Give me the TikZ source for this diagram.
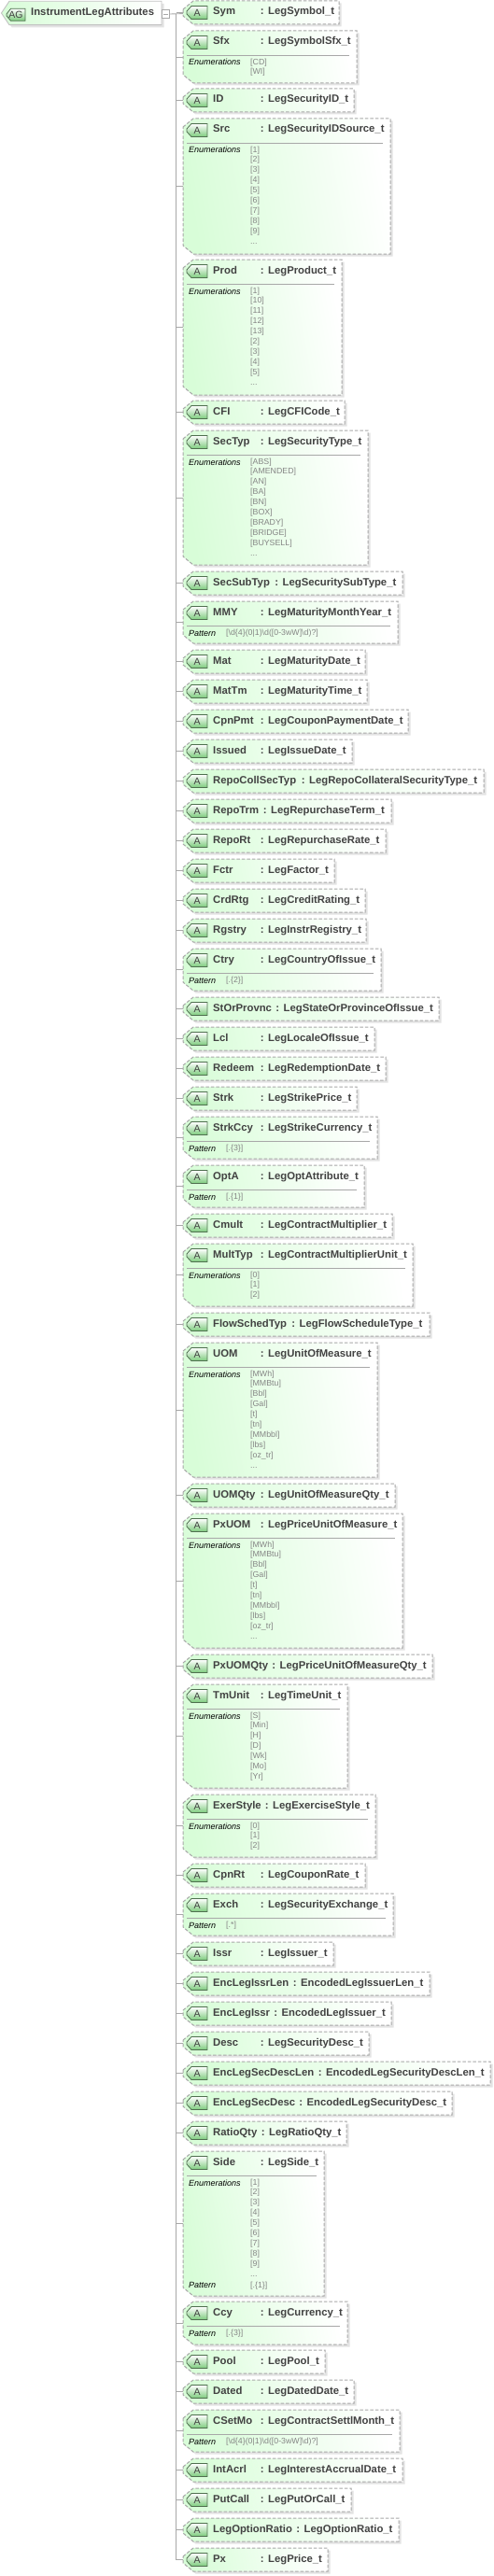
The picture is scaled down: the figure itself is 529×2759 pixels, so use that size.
\documentclass[tikz,border=0pt]{standalone}
\usepackage{fontspec}
\setmainfont{Liberation Sans}
\definecolor{attrgreen}{HTML}{D8FDD8}
\definecolor{framegray}{HTML}{A8A8A8}
\definecolor{shadowgray}{HTML}{E3E3E3}
\definecolor{namegray}{HTML}{424242}
\definecolor{valgray}{HTML}{858585}
\definecolor{badgeedge}{HTML}{4F6F4F}
\definecolor{badgegreen}{HTML}{7CCB7C}
\newcommand\nmfont{\fontsize{11.3}{13}\bfseries\selectfont}
\newcommand\lbfont{\fontsize{9}{11}\itshape\selectfont}
\newcommand\vlfont{\fontsize{8.8}{11}\selectfont}
\newcommand\rxval{[\textbackslash d\{4\}(0|1)\textbackslash d([0-3wW]\textbackslash d)?]}
\newcommand\mydots{...}
\tikzset{
  boxanchor/.style={inner sep=0pt,outer sep=0pt,anchor=north west,draw=none},
  conn/.style={draw=framegray,line width=.9pt},
  boxshadow/.style={fill=shadowgray,draw=none},
  boxfill/.style={draw=none,left color=attrgreen,right color=white,shading angle=100},
  boxline/.style={draw=framegray,line width=1pt,dash pattern=on 3.5pt off 2pt},
  badge/.style={draw=badgeedge,line width=.8pt,top color=white,bottom color=badgegreen},
  badgetext/.style={inner sep=0pt,text=namegray,font=\fontsize{10.5}{12}\selectfont},
  nametext/.style={inner sep=0pt,anchor=base west,text=namegray,font=\nmfont},
  labeltext/.style={inner sep=0pt,anchor=base west,text=black,font=\lbfont},
  valtext/.style={inner sep=0pt,anchor=base west,text=valgray,font=\vlfont},
  divider/.style={draw=framegray,line width=.8pt},
}
\newcommand\attr[7]{%
  \coordinate (tr-#1) at (188.7,{(#2+#3)/2});
  \node[boxanchor,minimum width={(#4-196)*1pt},minimum height={(#3-#2)*1pt}] (#1) at (196,#2) {};
  \draw[conn] (tr-#1) -- (#1.west);
  \path[boxshadow,xshift=2.5pt,yshift=-2.5pt] (196,#2+9) -- (207,#2) -- (#4,#2) -- (#4,#3) -- (207,#3) -- (196,#3-9) -- cycle;
  \path[boxfill] (196,#2+9) -- (207,#2) -- (#4,#2) -- (#4,#3) -- (207,#3) -- (196,#3-9) -- cycle;
  \path[boxline] (196,#2+9) -- (207,#2) -- (#4,#2) -- (#4,#3) -- (207,#3) -- (196,#3-9) -- cycle;
  \path[badge] (200,#2+11) -- (205,#2+5.5) -- (222,#2+5.5) -- (222,#2+19.5) -- (205,#2+19.5) -- (200,#2+14) -- cycle;
  \node[badgetext] (#1-badge) at (211,#2+12.8) {A};
  \node[nametext] (#1-name) at (228,#2+15) {#5};
  \node[nametext] (#1-colon) at (#6-8.4,#2+15) {:};
  \node[nametext] (#1-type) at (#6,#2+15) {#7};
}
\newcommand\facet[6]{%
  \draw[divider] (200,#2+26.3) -- (#3-8,#2+26.3);
  \node[labeltext] (#1-label) at (202,#2+37) {#4};
  \foreach \v [count=\i] in {#6} {
    \node[valtext] (#1-val\i) at (#5,{#2+36.6+11*(\i-1)-(\i>1)}) {\v};
  }
}
\newcommand\extra[5]{%
  \node[labeltext] (#1-xlabel) at (202,#2+146) {#3};
  \node[valtext] (#1-xval) at (#4,#2+146) {#5};
}
\begin{document}
\begin{tikzpicture}[x=1pt,y=-1pt]
\useasboundingbox (0,0) rectangle (529,2759);
\fill[white] (0,0) rectangle (529,2759);
% root
\coordinate (trunktop) at (188.7,14.6);
\coordinate (trunkbot) at (188.7,2741.5);
\node[boxanchor,minimum width=171pt,minimum height=25.5pt] (root) at (2,1.3) {};
\path[fill=shadowgray,xshift=2.7pt,yshift=-2.7pt] (1.5,14) -- (10,1.3) -- (173,1.3) -- (173,26.7) -- (10,26.7) -- cycle;
\path[draw=framegray!70,line width=.9pt,left color=attrgreen,right color=white,shading angle=90] (1.5,14) -- (10,1.3) -- (173,1.3) -- (173,26.7) -- (10,26.7) -- cycle;
\path[badge] (7,15) -- (11.5,9.3) -- (27,9.3) -- (27,22.2) -- (11.5,22.2) -- (7,17) -- cycle;
\node[badgetext] (root-badge) at (17,16) {AG};
\node[nametext] (root-name) at (33,16.7) {InstrumentLegAttributes};
\node[rectangle,draw=framegray,line width=.9pt,fill=white,minimum width=8.6pt,minimum height=8.6pt,inner sep=0pt] (collapse) at (177.4,15) {};
\draw[conn,draw=framegray] (175,15) -- (180,15);
\draw[conn] (trunktop) -- (trunkbot);
\coordinate (symin) at (196,14.6);
\draw[conn] (collapse.east) -- (symin);
% attributes
\attr{Sym}{1}{26}{363}{Sym}{287}{LegSymbol\_t}
\attr{Sfx}{33}{89}{382}{Sfx}{287}{LegSymbolSfx\_t}
\facet{Sfx}{33}{382}{Enumerations}{268}{[CD],[WI]}
\attr{ID}{95}{120}{379}{ID}{287}{LegSecurityID\_t}
\attr{Src}{127}{272}{418}{Src}{287}{LegSecurityIDSource\_t}
\facet{Src}{127}{418}{Enumerations}{268}{[1],[2],[3],[4],[5],[6],[7],[8],[9],\mydots}
\attr{Prod}{278}{423}{366}{Prod}{287}{LegProduct\_t}
\facet{Prod}{278}{366}{Enumerations}{268}{[1],[10],[11],[12],[13],[2],[3],[4],[5],\mydots}
\attr{CFI}{429}{454}{369}{CFI}{287}{LegCFICode\_t}
\attr{SecTyp}{461}{605}{394}{SecTyp}{287}{LegSecurityType\_t}
\facet{SecTyp}{461}{394}{Enumerations}{268}{[ABS],[AMENDED],[AN],[BA],[BN],[BOX],[BRADY],[BRIDGE],[BUYSELL],\mydots}
\attr{SecSubTyp}{612}{637}{431}{SecSubTyp}{302.5}{LegSecuritySubType\_t}
\attr{MMY}{644}{689}{426}{MMY}{287}{LegMaturityMonthYear\_t}
\facet{MMY}{644}{426}{Pattern}{242}{\rxval}
\attr{Mat}{696}{721}{391}{Mat}{287}{LegMaturityDate\_t}
\attr{MatTm}{728}{753}{393}{MatTm}{287}{LegMaturityTime\_t}
\attr{CpnPmt}{760}{785}{437}{CpnPmt}{287}{LegCouponPaymentDate\_t}
\attr{Issued}{792}{817}{377}{Issued}{287}{LegIssueDate\_t}
\attr{RepoCollSecTyp}{824}{849}{518}{RepoCollSecTyp}{331}{LegRepoCollateralSecurityType\_t}
\attr{RepoTrm}{856}{881}{419}{RepoTrm}{290}{LegRepurchaseTerm\_t}
\attr{RepoRt}{888}{913}{413}{RepoRt}{287}{LegRepurchaseRate\_t}
\attr{Fctr}{920}{945}{358}{Fctr}{287}{LegFactor\_t}
\attr{CrdRtg}{952}{977}{391}{CrdRtg}{287}{LegCreditRating\_t}
\attr{Rgstry}{984}{1009}{392}{Rgstry}{287}{LegInstrRegistry\_t}
\attr{Ctry}{1016}{1061}{408}{Ctry}{287}{LegCountryOfIssue\_t}
\facet{Ctry}{1016}{408}{Pattern}{242}{[.\{2\}]}
\attr{StOrProvnc}{1068}{1093}{470}{StOrProvnc}{303.5}{LegStateOrProvinceOfIssue\_t}
\attr{Lcl}{1100}{1125}{401}{Lcl}{287}{LegLocaleOfIssue\_t}
\attr{Redeem}{1132}{1157}{413}{Redeem}{287}{LegRedemptionDate\_t}
\attr{Strk}{1164}{1189}{382}{Strk}{287}{LegStrikePrice\_t}
\attr{StrkCcy}{1196}{1241}{404}{StrkCcy}{287}{LegStrikeCurrency\_t}
\facet{StrkCcy}{1196}{404}{Pattern}{242}{[.\{3\}]}
\attr{OptA}{1248}{1293}{390}{OptA}{287}{LegOptAttribute\_t}
\facet{OptA}{1248}{390}{Pattern}{242}{[.\{1\}]}
\attr{Cmult}{1300}{1325}{420}{Cmult}{287}{LegContractMultiplier\_t}
\attr{MultTyp}{1332}{1399}{442}{MultTyp}{287}{LegContractMultiplierUnit\_t}
\facet{MultTyp}{1332}{442}{Enumerations}{268}{[0],[1],[2]}
\attr{FlowSchedTyp}{1406}{1431}{460}{FlowSchedTyp}{320.5}{LegFlowScheduleType\_t}
\attr{UOM}{1438}{1582}{404}{UOM}{287}{LegUnitOfMeasure\_t}
\facet{UOM}{1438}{404}{Enumerations}{268}{[MWh],[MMBtu],[Bbl],[Gal],[t],[tn],[MMbbl],[lbs],[oz\_tr],\mydots}
\attr{UOMQty}{1589}{1614}{423}{UOMQty}{287}{LegUnitOfMeasureQty\_t}
\attr{PxUOM}{1621}{1765}{431}{PxUOM}{287}{LegPriceUnitOfMeasure\_t}
\facet{PxUOM}{1621}{431}{Enumerations}{268}{[MWh],[MMBtu],[Bbl],[Gal],[t],[tn],[MMbbl],[lbs],[oz\_tr],\mydots}
\attr{PxUOMQty}{1772}{1797}{463}{PxUOMQty}{299.5}{LegPriceUnitOfMeasureQty\_t}
\attr{TmUnit}{1804}{1915}{372}{TmUnit}{287}{LegTimeUnit\_t}
\facet{TmUnit}{1804}{372}{Enumerations}{268}{[S],[Min],[H],[D],[Wk],[Mo],[Yr]}
\attr{ExerStyle}{1922}{1989}{402}{ExerStyle}{292}{LegExerciseStyle\_t}
\facet{ExerStyle}{1922}{402}{Enumerations}{268}{[0],[1],[2]}
\attr{CpnRt}{1996}{2021}{391}{CpnRt}{287}{LegCouponRate\_t}
\attr{Exch}{2028}{2073}{421}{Exch}{287}{LegSecurityExchange\_t}
\facet{Exch}{2028}{421}{Pattern}{242}{[.*]}
\attr{Issr}{2080}{2105}{357}{Issr}{287}{LegIssuer\_t}
\attr{EncLegIssrLen}{2112}{2137}{460}{EncLegIssrLen}{322}{EncodedLegIssuerLen\_t}
\attr{EncLegIssr}{2144}{2169}{419}{EncLegIssr}{301.5}{EncodedLegIssuer\_t}
\attr{Desc}{2176}{2201}{395}{Desc}{287}{LegSecurityDesc\_t}
\attr{EncLegSecDescLen}{2208}{2233}{525}{EncLegSecDescLen}{349}{EncodedLegSecurityDescLen\_t}
\attr{EncLegSecDesc}{2240}{2265}{484}{EncLegSecDesc}{328.5}{EncodedLegSecurityDesc\_t}
\attr{RatioQty}{2272}{2297}{371}{RatioQty}{288}{LegRatioQty\_t}
\attr{Side}{2304}{2459}{347}{Side}{287}{LegSide\_t}
\facet{Side}{2304}{347}{Enumerations}{268}{[1],[2],[3],[4],[5],[6],[7],[8],[9],\mydots}
\extra{Side}{2304}{Pattern}{268}{[.\{1\}]}
\attr{Ccy}{2465}{2511}{372}{Ccy}{287}{LegCurrency\_t}
\facet{Ccy}{2465}{372}{Pattern}{242}{[.\{3\}]}
\attr{Pool}{2517}{2542}{348}{Pool}{287}{LegPool\_t}
\attr{Dated}{2549}{2574}{379}{Dated}{287}{LegDatedDate\_t}
\attr{CSetMo}{2581}{2626}{428}{CSetMo}{287}{LegContractSettlMonth\_t}
\facet{CSetMo}{2581}{428}{Pattern}{242}{\rxval}
\attr{IntAcrl}{2633}{2658}{431}{IntAcrl}{287}{LegInterestAccrualDate\_t}
\attr{PutCall}{2665}{2690}{376}{PutCall}{287}{LegPutOrCall\_t}
\attr{LegOptionRatio}{2697}{2722}{427}{LegOptionRatio}{325.5}{LegOptionRatio\_t}
\attr{Px}{2729}{2754}{351}{Px}{287}{LegPrice\_t}
\end{tikzpicture}
\end{document}
